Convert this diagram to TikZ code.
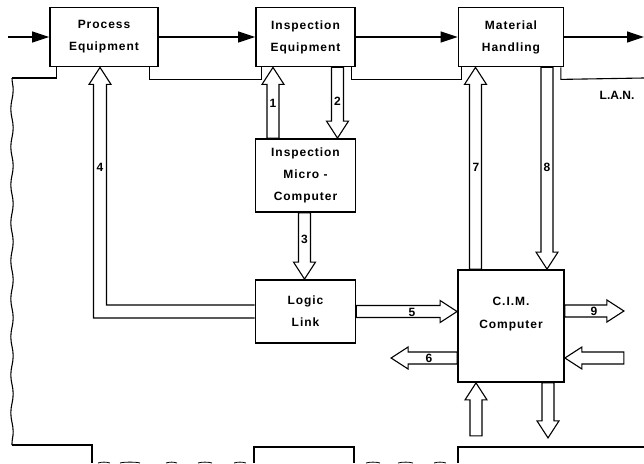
\documentclass[tikz,border=0pt]{standalone}
\usepackage{fontspec}
\setmainfont{Liberation Sans}
\newfontfamily\boxfont{Liberation Sans}[LetterSpace=8]
\usetikzlibrary{positioning, calc, arrows.meta, decorations.pathmorphing}

% hollow block arrow from #1 to #2
\newcommand{\hollowarrow}[2]{%
  \path let \p1=(#1), \p2=(#2) in \pgfextra{%
    \pgfmathsetmacro{\haang}{atan2(\y2-\y1,\x2-\x1)}%
    \pgfmathsetmacro{\halen}{veclen(\x2-\x1,\y2-\y1)}%
    \xdef\haang{\haang}\xdef\halen{\halen}%
    \xdef\hax{\x1}\xdef\hay{\y1}};
  \draw[hollow, shift={(\hax,\hay)}, rotate=\haang]
    (0pt,6pt) -- (\halen pt-17pt,6pt) -- (\halen pt-17pt,11pt) -- (\halen pt,0pt)
    -- (\halen pt-17pt,-11pt) -- (\halen pt-17pt,-6pt) -- (0pt,-6pt) -- cycle;}

\begin{document}
\begin{tikzpicture}[
    x=1pt, y=-1pt,
    box/.style={draw, rectangle, line width=1.8pt, align=center, inner sep=0pt, font=\boxfont\fontsize{12}{22}\selectfont\bfseries},
    boxtext/.style={align=center, inner sep=0pt, font=\boxfont\fontsize{12}{23}\selectfont\bfseries},
    hollow/.style={line width=1.1pt, line join=miter},
    flow/.style={line width=1.2pt, -{Triangle[length=17pt, width=11pt]}},
    lan/.style={line width=1.1pt},
    num/.style={inner sep=0pt, font=\fontsize{12}{14}\selectfont\bfseries}
]
    \useasboundingbox (0,0) rectangle (644,463);

    % ================= BOXES =================
    \node[box, minimum width=108, minimum height=59] (proc) at (104,37) {Process\\Equipment};
    \node[box, minimum width=99, minimum height=59] (inseq) at (305.5,37) {Inspection\\Equipment};
    \node[box, minimum width=105, minimum height=59] (mat) at (511,37) {Material\\Handling};
    \node[box, minimum width=100, minimum height=73] (micro) at (305.5,175.5) {Inspection\\Micro -\\Computer};
    \node[box, minimum width=100, minimum height=63] (logic) at (305.5,311.5) {Logic\\Link};
    \node[box, minimum width=106, minimum height=112] (cim) at (511,326) {};
    \node[boxtext] (cimlabel) at ($(cim.center)+(0,-12)$) {C.I.M.\\Computer};

    % ================= MATERIAL FLOW =================
    \coordinate (in) at (8,37);
    \coordinate (out) at (644,37);
    \draw[flow] (in) -- (proc.west);
    \draw[flow] (proc) -- (inseq);
    \draw[flow] (inseq) -- (mat);
    \draw[flow] (mat.east) -- (out);

    % ================= L.A.N. =================
    \coordinate (lanL) at (12,78);
    \coordinate (lanLB) at (12,445);
    \coordinate (lanD) at (92,463);
    \coordinate (lanR) at (644,78);
    \draw[lan] ([xshift=7pt]proc.south west) |- (lanL);
    \draw[lan, decorate, decoration={snake, amplitude=1.2pt, segment length=38pt}] (lanL) -- (lanLB);
    \draw[lan] (lanLB) -| (lanD);
    \draw[lan] ([xshift=-9pt]proc.south east) -- ++(0,12) -| ([xshift=6pt]inseq.south west);
    \draw[lan] ([xshift=-4pt]inseq.south east) -- ++(0,12) -| ([xshift=3.5pt]mat.south west);
    \draw[lan] ([xshift=-3.5pt]mat.south east) -- ++(0,12) -- (lanR);
    \node[num] (lanlabel) at (617,95) {L.A.N.};

    % lower stations, cut off by the page edge
    \draw[lan] (254,463) |- (354,447) -- (354,463);
    \draw[lan] (458,463) |- (644,447);
    \foreach \a/\b in {98/110, 120/140, 166/177, 198/212, 234/246, 366/380, 398/413, 434/446}
        \draw[line width=0.8pt] (\a,463) .. controls (\a+4,461.8) and (\b-4,461.8) .. (\b,463);

    % ================= DATA LINKS =================
    \hollowarrow{$(micro.north)+(-32.5,0)$}{$(inseq.south)+(-32.5,0)$}
    \hollowarrow{$(inseq.south)+(32,0)$}{$(micro.north)+(32,0)$}
    \hollowarrow{$(micro.south)+(-1,0)$}{$(logic.north)+(-1,0)$}
    \draw[hollow] ($(logic.west)+(0,-6.5)$) -| ($(proc.south)+(2.5,17)$) -- ++(4.5,0)
        -- ($(proc.south)+(-4,0)$) -- ++(-11,17) -- ++(4.5,0) |- ($(logic.west)+(0,6.5)$);
    \hollowarrow{logic.east}{logic.east -| cim.west}
    \hollowarrow{$(cim.west)+(0,32)$}{$(cim.west)+(-66,32)$}
    \hollowarrow{$(cim.north)+(-35.5,0)$}{$(mat.south)+(-35.5,0)$}
    \hollowarrow{$(mat.south)+(36,0)$}{$(cim.north)+(36,0)$}
    \hollowarrow{$(cim.east)+(0,-15)$}{$(cim.east)+(59,-15)$}
    \hollowarrow{$(cim.east)+(59,32)$}{$(cim.east)+(0,32)$}
    \hollowarrow{$(cim.south)+(-35,53)$}{$(cim.south)+(-35,0)$}
    \hollowarrow{$(cim.south)+(37,0)$}{$(cim.south)+(37,55)$}

    % ================= LINK NUMBERS =================
    \node[num] (n1) at (273,103) {1};
    \node[num] (n2) at (337.5,101) {2};
    \node[num] (n3) at (304.5,239) {3};
    \node[num] (n4) at (100,167) {4};
    \node[num] (n5) at (412,312) {5};
    \node[num] (n6) at (429,358) {6};
    \node[num] (n7) at (476,167) {7};
    \node[num] (n8) at (547,167) {8};
    \node[num] (n9) at (594,311) {9};

\end{tikzpicture}
\end{document}
